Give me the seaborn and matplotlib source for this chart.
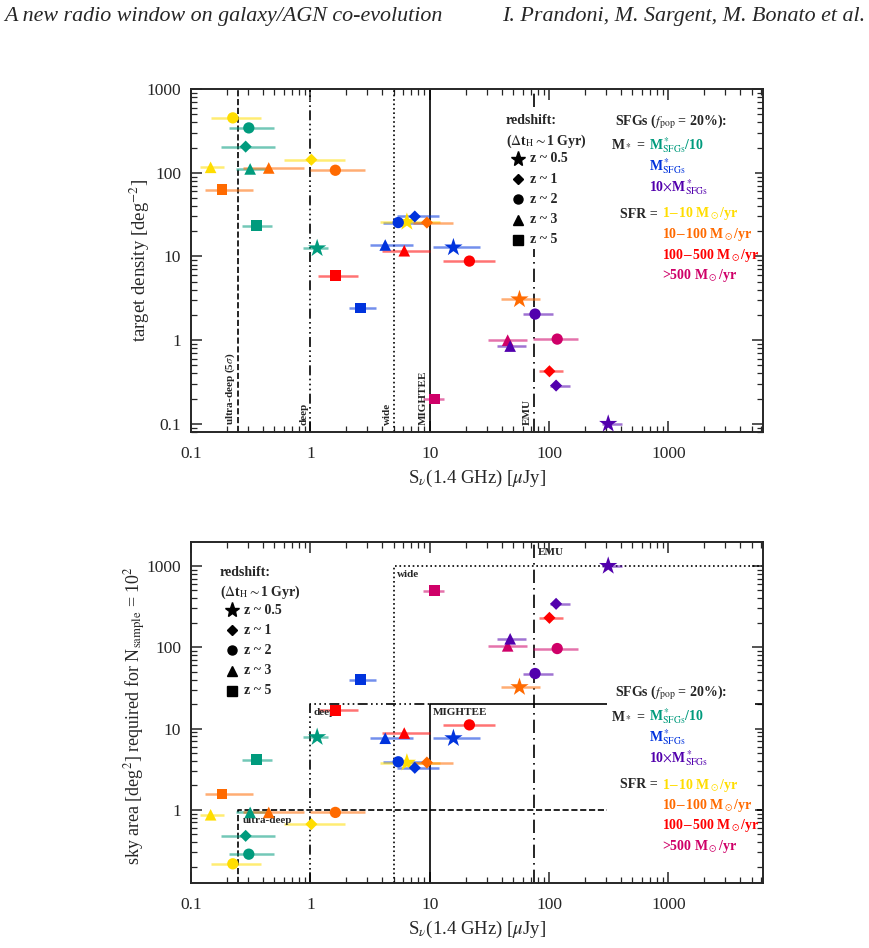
import matplotlib
matplotlib.use("Agg")
import matplotlib.pyplot as plt
import numpy as np
import pandas as pd
import seaborn as sns
from matplotlib.lines import Line2D
from matplotlib.patches import Rectangle
from matplotlib.ticker import FixedLocator, LogLocator, NullFormatter, FuncFormatter

# ---------------------------------------------------------------------------
# Data (same 30 model points in both)
# ---------------------------------------------------------------------------
pop = ["1-10", "M*/10", "M*/10", "1-10", "1-10", "M*/10", "10-100", "10-100",
       "10-100", "M*/10", "M*", "1-10", "M*", "10-100", "M*/10", "M*",
       "100-500", "M*", "100-500", "100-500", "M*", ">500", "10-100", "10M*",
       ">500", ">500", "10M*", "100-500", "10M*", "10M*"]
zbin = ["z2", "z2", "z1", "z1", "z3", "z3", "z3", "z2",
        "z5", "z5", "z2", "z05", "z1", "z1", "z05", "z3",
        "z3", "z05", "z2", "z5", "z5", "z5", "z05", "z2",
        "z2", "z3", "z3", "z1", "z1", "z05"]
s_nu = [0.224, 0.305, 0.287, 1.02, 0.146, 0.313, 0.448, 1.62,
        0.182, 0.353, 5.45, 6.44, 7.5, 9.47, 1.14, 4.24,
        6.12, 15.8, 21.5, 1.62, 2.62, 11.0, 56.5, 76.3,
        117.0, 45.0, 47.2, 100.7, 114.5, 313.0]
s_lo = [0.148, 0.21, 0.178, 0.606, 0.12, 0.236, 0.275, 1.0,
        0.13, 0.268, 4.06, 3.85, 5.3, 7.3, 0.86, 3.18,
        3.98, 10.7, 12.9, 1.16, 2.12, 8.8, 39.4, 60.6,
        73.0, 31.0, 36.6, 82.6, 101.0, 277.0]
s_hi = [0.389, 0.497, 0.509, 1.96, 0.19, 0.463, 0.89, 2.88,
        0.33, 0.478, 10.0, 12.2, 12.0, 15.7, 1.41, 7.2,
        10.0, 26.5, 35.0, 2.5, 3.57, 13.2, 84.0, 107.0,
        174.0, 65.0, 64.0, 132.0, 149.0, 405.0]
density = [452, 343, 205, 143, 116, 111, 114, 107,
           62.6, 23.4, 25.4, 25.8, 30.0, 25.4, 12.5, 13.7,
           11.7, 12.8, 8.8, 5.9, 2.42, 0.198, 3.07, 2.05,
           1.03, 1.0, 0.85, 0.425, 0.287, 0.1]
sky_area = [0.217, 0.285, 0.479, 0.667, 0.87, 0.93, 0.93, 0.93,
            1.57, 4.12, 3.9, 3.8, 3.29, 3.82, 7.84, 7.6,
            8.8, 7.6, 11.1, 16.8, 39.7, 494, 32.3, 47.5,
            96.4, 104, 127, 230, 342, 1000]

# surveys: 5-sigma flux limit and area (EMU area is off the chart)
survey_names = ["ultra-deep", "deep", "wide", "MIGHTEE", "EMU"]
survey_flux = [0.25, 1.0, 5.0, 10.0, 75.0]
survey_area = [1.0, 20.0, 1000.0, 20.0, np.nan]

pop_colors = {"M*/10": "#009b7d", "M*": "#0033dd", "10M*": "#5200ad",
              "1-10": "#ffdd00", "10-100": "#ff6a00", "100-500": "#ff0000",
              ">500": "#cf0068"}
z_markers = {"z05": "*", "z1": "D", "z2": "o", "z3": "^", "z5": "s"}
z_sizes = {"z05": 190, "z1": 38, "z2": 66, "z3": 70, "z5": 60}
z_labels = {"z05": "z ~ 0.5", "z1": "z ~ 1", "z2": "z ~ 2", "z3": "z ~ 3", "z5": "z ~ 5"}

df = pd.DataFrame({"pop": pop, "z": zbin, "S": s_nu, "S_lo": s_lo, "S_hi": s_hi,
                   "density": density, "area": sky_area})

# ---------------------------------------------------------------------------
# Style
# ---------------------------------------------------------------------------
sns.set_style("ticks")
plt.rcParams.update({
    "font.family": ["Liberation Serif", "DejaVu Serif"],
    "mathtext.fontset": "stix",
    "axes.linewidth": 1.4,
    "xtick.direction": "in", "ytick.direction": "in",
    "xtick.top": True, "ytick.right": True,
    "xtick.major.size": 8, "ytick.major.size": 8,
    "xtick.minor.size": 4, "ytick.minor.size": 4,
    "xtick.major.width": 1.1, "ytick.major.width": 1.1,
    "xtick.minor.width": 0.9, "ytick.minor.width": 0.9,
    "xtick.labelsize": 12.5, "ytick.labelsize": 12.5,
})

W, H = 869, 948
fig = plt.figure(figsize=(W / 100, H / 100), dpi=100)


def fxy(px, py):
    return px / W, 1 - py / H


ax_top = fig.add_axes([191 / W, 1 - 432 / H, 572 / W, 343 / H])
ax_bot = fig.add_axes([191 / W, 1 - 883 / H, 572 / W, 341 / H])

fmt = FuncFormatter(lambda v, _: f"{v:g}")


def draw_points(ax, ycol):
    cols = [pop_colors[p] for p in df["pop"]]
    ax.hlines(df[ycol], df["S_lo"], df["S_hi"], colors=cols, alpha=0.55,
              lw=1.8, zorder=2)
    for z, m in z_markers.items():
        sub = df[df["z"] == z]
        sns.scatterplot(data=sub, x="S", y=ycol, hue="pop", palette=pop_colors,
                        marker=m, s=z_sizes[z], linewidth=0, legend=False,
                        ax=ax, zorder=3)


def setup_axis(ax, ylim, yticks):
    ax.set_xscale("log")
    ax.set_yscale("log")
    ax.set_xlim(0.1, 6200)
    ax.set_ylim(*ylim)
    ax.xaxis.set_major_locator(FixedLocator([0.1, 1, 10, 100, 1000]))
    ax.yaxis.set_major_locator(FixedLocator(yticks))
    ax.xaxis.set_minor_locator(LogLocator(base=10, subs=np.arange(2, 10), numticks=20))
    ax.yaxis.set_minor_locator(LogLocator(base=10, subs=np.arange(2, 10), numticks=20))
    ax.xaxis.set_major_formatter(fmt)
    ax.yaxis.set_major_formatter(fmt)
    ax.xaxis.set_minor_formatter(NullFormatter())
    ax.yaxis.set_minor_formatter(NullFormatter())
    ax.tick_params(axis="x", which="major", pad=10)
    ax.tick_params(axis="y", which="major", pad=7)
    ax.set_xlabel(r"S$_\nu$(1.4 GHz) [$\mu$Jy]", fontsize=13.5, labelpad=4)


styles = ["--", (0, (6, 2, 1, 2, 1, 2, 1, 2)), ":", "-", (0, (8, 3, 1, 3))]
dashes = dict(zip(survey_names, styles))

# ---------------------------------------------------------------------------
# Top panel: target density
# ---------------------------------------------------------------------------
ax = ax_top
setup_axis(ax, (0.08, 1000), [0.1, 1, 10, 100, 1000])
for name, flux in zip(survey_names, survey_flux):
    ax.axvline(flux, color="black", lw=1.2, ls=dashes[name], zorder=1)
    lab = "ultra-deep (5$\\sigma$)" if name == "ultra-deep" else name
    ax.text(flux * 0.965, 0.02, lab, rotation=90, ha="right", va="bottom",
            fontsize=8, fontweight="bold",
            transform=ax.get_xaxis_transform())
draw_points(ax, "density")
ax.set_ylabel(r"target density [deg$^{-2}$]", fontsize=13.5)
ax.yaxis.set_label_coords(-0.068, 0.5)

# ---------------------------------------------------------------------------
# Bottom panel: sky area
# ---------------------------------------------------------------------------
ax = ax_bot
setup_axis(ax, (0.126, 1970), [1, 10, 100, 1000])
x_right = ax.get_xlim()[1]
y_bottom = ax.get_ylim()[0]
y_top = ax.get_ylim()[1]
for name, flux, area in zip(survey_names, survey_flux, survey_area):
    ls = dashes[name]
    if np.isnan(area):
        ax.plot([flux, flux], [y_bottom, y_top], color="black", lw=1.2, ls=ls, zorder=1)
        ax.text(flux * 1.08, 1450, name, ha="left", va="center", fontsize=8,
                fontweight="bold")
        continue
    x_end = survey_flux[survey_names.index("MIGHTEE")] if name == "deep" else x_right
    ax.plot([flux, flux, x_end], [y_bottom, area, area], color="black", lw=1.2,
            ls=ls, zorder=1)
    if name == "ultra-deep":
        ax.text(flux * 1.08, area * 0.84, name, ha="left", va="top", fontsize=8,
                fontweight="bold")
    else:
        ax.text(flux * 1.07, area * 0.9, name, ha="left", va="top", fontsize=8,
                fontweight="bold")
draw_points(ax, "area")
ax.set_ylabel(r"sky area [deg$^2$] required for N$_{\rm sample}$ = 10$^2$",
              fontsize=13)
ax.yaxis.set_label_coords(-0.075, 0.49)

# ---------------------------------------------------------------------------
# Legends (text blocks in figure pixels)
# ---------------------------------------------------------------------------
def white_box(x0, y0, x1, y1):
    (a, b), (c, d) = fxy(x0, y1), fxy(x1, y0)
    fig.add_artist(Rectangle((a, b), c - a, d - b, transform=fig.transFigure,
                             facecolor="white", edgecolor="none", zorder=2))


def redshift_block(px, py):
    white_box(px - 3, py - 10, px + 70, py + 128)
    fig.text(*fxy(px, py), "redshift:", fontsize=10, fontweight="bold",
             va="center", zorder=3)
    fig.text(*fxy(px, py + 20), r"($\Delta$t$_{\rm H}$$\sim$1 Gyr)", fontsize=10,
             fontweight="bold", va="center", zorder=3)
    for i, (z, m) in enumerate(z_markers.items()):
        yy = py + 38 + 20.2 * i
        fig.add_artist(Line2D([fxy(px + 12, yy)[0]], [fxy(px + 12, yy)[1]],
                              marker=m, color="black", ls="none",
                              markersize=11 if z == "z05" else 6.5 if z != "z1" else 5,
                              transform=fig.transFigure, zorder=3))
        fig.text(*fxy(px + 24, yy), z_labels[z], fontsize=10, fontweight="bold",
                 va="center", zorder=3)


def sfg_block(px, py):
    white_box(px - 8, py - 12, px + 140, py + 168)
    kw = dict(fontsize=10, fontweight="bold", va="center", zorder=3)
    fig.text(*fxy(px, py), r"SFGs ($f_{\rm pop}$ = 20%):", **kw)
    fig.text(*fxy(px + 30, py + 23), r"M$_*$ =", ha="right", **kw)
    fig.text(*fxy(px + 34, py + 23), r"M$^*_{\rm SFGs}$/10", color=pop_colors["M*/10"], **kw)
    fig.text(*fxy(px + 34, py + 44), r"M$^*_{\rm SFGs}$", color=pop_colors["M*"], **kw)
    fig.text(*fxy(px + 34, py + 65), r"10$\times$M$^*_{\rm SFGs}$", color=pop_colors["10M*"], **kw)
    fig.text(*fxy(px + 43, py + 92), "SFR =", ha="right", **kw)
    sfr = ["1-10", "10-100", "100-500", ">500"]
    sfr_txt = [r"1$-$10 M$_\odot$/yr", r"10$-$100 M$_\odot$/yr",
               r"100$-$500 M$_\odot$/yr", r">500 M$_\odot$/yr"]
    for i, (k, t) in enumerate(zip(sfr, sfr_txt)):
        fig.text(*fxy(px + 47, py + 92 + 20.5 * i), t, color=pop_colors[k], **kw)


redshift_block(506, 121)
sfg_block(615, 122)
redshift_block(220, 572)
sfg_block(615, 693)

# page header
fig.text(*fxy(4, 16), "A new radio window on galaxy/AGN co-evolution",
         fontsize=15.8, style="italic", va="center")
fig.text(*fxy(865, 16), "I. Prandoni, M. Sargent, M. Bonato et al.",
         fontsize=15.8, style="italic", va="center", ha="right")

fig.savefig("out.png", dpi=100)
